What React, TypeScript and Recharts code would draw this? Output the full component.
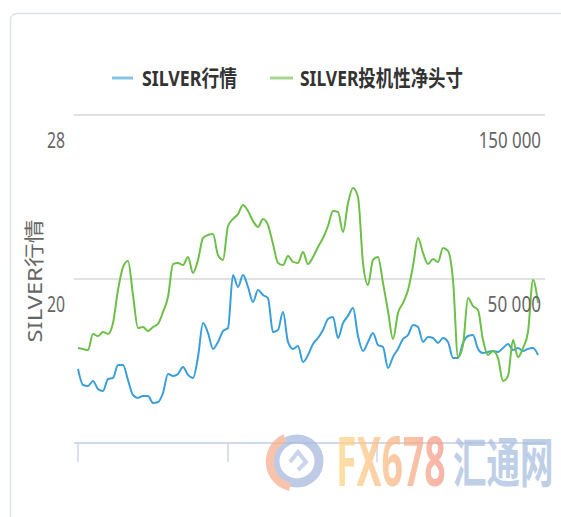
import { LineChart, Line, XAxis, YAxis, CartesianGrid } from 'recharts';

// SILVER price (left axis), roughly weekly points
const silverPrice = [
  15.61, 14.83, 14.78, 15.02, 14.63, 14.54, 15.12, 15.17, 15.8, 15.8,
  15.07, 14.34, 14.2, 14.29, 14.29, 13.95, 14.0, 14.44, 15.37, 15.27,
  15.37, 15.71, 15.32, 15.17, 16.2, 17.85, 17.37, 16.59, 16.93, 17.46,
  17.61, 20.2, 19.61, 20.2, 19.61, 18.88, 19.46, 19.22, 19.07, 17.41,
  17.51, 18.39, 16.93, 16.59, 16.73, 15.95, 16.29, 16.83, 17.12, 17.51,
  18.05, 18.15, 17.12, 17.85, 18.2, 18.59, 17.22, 16.49, 16.93, 17.37,
  16.78, 16.68, 15.66, 16.2, 16.59, 17.07, 17.27, 17.76, 17.66, 16.93,
  17.17, 17.12, 16.88, 17.12, 16.93, 16.15, 16.15, 16.88, 17.22, 17.27,
  16.59, 16.39, 16.44, 16.49, 16.44, 16.63, 16.83, 16.54, 16.63, 16.49,
  16.59, 16.63, 16.29,
];

// SILVER speculative net position (right axis)
const netPosition = [
  7900, 7300, 6700, 16500, 15200, 17700, 16500, 23200, 43300, 57300,
  61000, 40200, 20100, 20700, 18300, 20700, 22600, 29900, 39000, 59100,
  59800, 58500, 63400, 53700, 61600, 75000, 76800, 77400, 64600, 61600,
  82300, 86600, 89600, 95100, 91500, 85400, 81700, 86600, 82900, 71300,
  59800, 58500, 64000, 60400, 59800, 66500, 59100, 63400, 69500, 75000,
  82300, 91500, 90900, 78700, 96300, 105500, 100000, 59800, 46300, 61600,
  63400, 47600, 30500, 13400, 29300, 35400, 43300, 57900, 75000, 65900,
  59100, 62200, 60400, 68900, 67100, 49400, 2400, 9800, 38400, 33500,
  31100, 12800, 3700, 6100, 1800, -12200, -9100, 12800, 2400, 7900,
  17700, 49400, 35400,
];

const leftTicks = [12, 20, 28];
const rightTicks = [-50000, 50000, 150000];
const xTicks = [0, 30, 59.8, 89.8];

const legendItems = [
  { name: 'SILVER行情', color: '#86c4e6' },
  { name: 'SILVER投机性净头寸', color: '#a5d78c' },
];

const data = silverPrice.map((price, i) => ({ i, price, net: netPosition[i] }));

const font = '"Noto Sans", "Noto Sans CJK SC", sans-serif';

const fmtThousands = (v: number) => {
  const s = String(Math.abs(v)).replace(/\B(?=(\d{3})+(?!\d))/g, ' ');
  return v < 0 ? `-${s}` : s;
};

const LeftTick = (props: any) => {
  const { y, payload } = props;
  if (payload.value === 12) return <g />;
  return (
    <text x={65} y={y + 33} textAnchor="end" fontSize={21} fill="#666"
      fontFamily={font} textLength={18} lengthAdjust="spacingAndGlyphs">
      {payload.value}
    </text>
  );
};

const RightTick = (props: any) => {
  const { y, payload } = props;
  if (payload.value < 0) return <g />;
  const label = fmtThousands(payload.value);
  return (
    <text x={541} y={y + 33} textAnchor="end" fontSize={21} fill="#666"
      fontFamily={font} textLength={label.length * 8.9} lengthAdjust="spacingAndGlyphs">
      {label}
    </text>
  );
};

const EmptyTick = () => <g />;

export default function App() {
  return (
    <div style={{ position: 'absolute', left: 0, top: 0, width: 561, height: 517, background: '#fff', overflow: 'hidden' }}>
      <svg width={561} height={517} style={{ position: 'absolute', left: 0, top: 0 }}>
        <rect x={10.5} y={13.5} width={620} height={620} rx={6} fill="#fff" stroke="#e0e4e9" strokeWidth={1.5} />
      </svg>

      <div style={{ position: 'absolute', left: 0, top: 0 }}>
        <LineChart width={561} height={517} data={data} margin={{ top: 115, right: 0, bottom: 0, left: 0 }}>
          <CartesianGrid yAxisId="left" vertical={false} stroke="#d9d9d9" strokeWidth={1.5} />
          <XAxis
            dataKey="i"
            type="number"
            domain={[-0.8, 93.4]}
            ticks={xTicks}
            height={74}
            tick={EmptyTick}
            tickSize={19}
            axisLine={{ stroke: '#ccd6eb', strokeWidth: 1.5 }}
            tickLine={{ stroke: '#ccd6eb', strokeWidth: 1.5 }}
          />
          <YAxis
            yAxisId="left"
            width={74}
            domain={[12, 28]}
            ticks={leftTicks}
            axisLine={false}
            tickLine={false}
            tick={LeftTick}
          />
          <YAxis
            yAxisId="right"
            orientation="right"
            width={16}
            domain={[-50000, 150000]}
            ticks={rightTicks}
            axisLine={false}
            tickLine={false}
            tick={RightTick}
          />
          <Line yAxisId="left" type="monotone" dataKey="price" stroke="#3a9fd8" strokeWidth={2} dot={false} isAnimationActive={false} />
          <Line yAxisId="right" type="monotone" dataKey="net" stroke="#6cbf47" strokeWidth={2} dot={false} isAnimationActive={false} />
        </LineChart>
      </div>

      <svg width={561} height={517} style={{ position: 'absolute', left: 0, top: 0, pointerEvents: 'none' }}>
        {/* legend */}
        <line x1={112} x2={133} y1={78} y2={78} stroke={legendItems[0].color} strokeWidth={3} />
        <text x={142} y={86} fontSize={22} fontWeight="bold" fill="#333" fontFamily={font}
          textLength={95} lengthAdjust="spacingAndGlyphs">{legendItems[0].name}</text>
        <line x1={270} x2={293} y1={78} y2={78} stroke={legendItems[1].color} strokeWidth={3} />
        <text x={300} y={86} fontSize={22} fontWeight="bold" fill="#333" fontFamily={font}
          textLength={163} lengthAdjust="spacingAndGlyphs">{legendItems[1].name}</text>

        {/* left axis title */}
        <text x={42} y={281} transform="rotate(-90 42 281)" textAnchor="middle" fontSize={20}
          fill="#666" fontFamily={font} textLength={123} lengthAdjust="spacingAndGlyphs">SILVER行情</text>

        {/* watermark */}
        <defs>
          <linearGradient id="fxGrad" x1="0" y1="0" x2="1" y2="0">
            <stop offset="0%" stopColor="#fdd889" />
            <stop offset="45%" stopColor="#f9bd86" />
            <stop offset="100%" stopColor="#f5998c" />
          </linearGradient>
        </defs>
        <g opacity={0.75}>
          <circle cx={297} cy={461} r={22} fill="none" stroke="#a9badf" strokeWidth={9} />
          <path d="M 285 438 A 26 26 0 0 0 290 487" fill="none" stroke="#f7b090" strokeWidth={8} />
          <path d="M 290 462 L 298 452 L 306 462 L 298 470" fill="none" stroke="#b9c7e6" strokeWidth={4} />
          <g transform="translate(336 486) scale(0.55 1)">
            <text x={0} y={0} fontSize={68} fontWeight="bold" fill="url(#fxGrad)" fontFamily={font}>FX678</text>
          </g>
          <g transform="translate(453 483) scale(0.62 1)">
            <text x={0} y={0} fontSize={54} fontWeight="bold" fill="#aac0e0" fontFamily={font}>汇通网</text>
          </g>
        </g>
      </svg>
    </div>
  );
}
